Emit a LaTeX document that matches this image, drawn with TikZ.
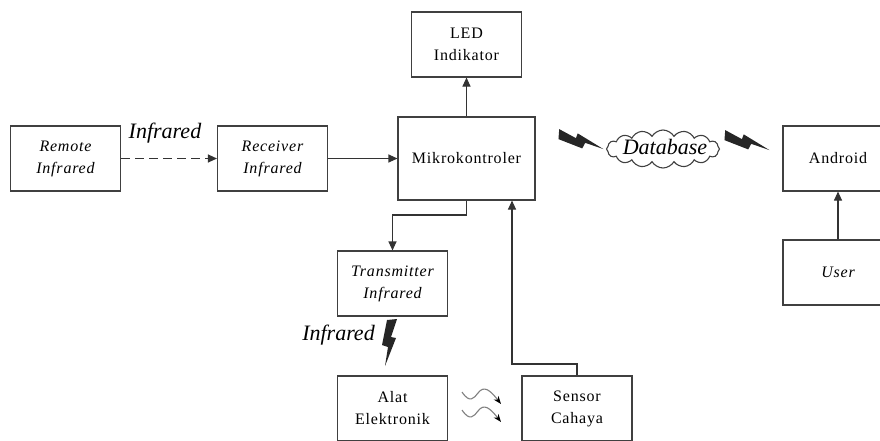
\documentclass[tikz,border=0pt]{standalone}
\usepackage{fontspec}
\setmainfont{Liberation Serif}
\newfontfamily\boxfont{Liberation Serif}[LetterSpace=5]
\usetikzlibrary{arrows.meta,positioning,shapes.symbols}
\newcommand\teksbox{\boxfont\fontsize{16}{22}\selectfont}
\newcommand\teksir{\itshape\fontsize{22}{24}\selectfont}
\tikzset{
  blok/.style={draw=black!75, line width=1.1pt, minimum width=110pt, minimum height=65pt,
    inner sep=0pt, align=center, font=\teksbox},
  miring/.style={blok, font=\teksbox\itshape},
  panah/.style={draw=black!80, line width=1.1pt, -{Triangle[length=9pt,width=8pt]}},
  gelombang/.style={draw=black!50, line width=1.1pt, -{Stealth[length=8pt,width=6pt,color=black]}},
  petir/.pic={\fill[black!85] (-3,1) -- (7,0) -- (1,18) -- (6,19) -- (-5,47) -- (-2,28) -- (-8,26) -- cycle;}
}
\begin{document}
\begin{tikzpicture}[x=1pt,y=-1pt]
\useasboundingbox (0,0) rectangle (880,440);
% Blok utama
\node[miring] (remote) at (65.5,158.5) {Remote\\Infrared};
\node[miring] (receiver) at (272.5,158.5) {Receiver\\Infrared};
\node[blok, minimum width=137pt, minimum height=83pt] (mikro) at (466.5,158.5) {Mikrokontroler};
\node[blok] (led) at (466.5,44.5) {LED\\Indikator};
\node[miring] (transmitter) at (392.5,283.5) {Transmitter\\Infrared};
\node[blok] (alat) at (392.5,408.5) {Alat\\Elektronik};
\node[blok] (sensor) at (577,408.5) {Sensor\\Cahaya};
\node[blok] (android) at (838,158.5) {Android};
\node[miring] (user) at (838,272.5) {User};
% Cloud database
\node[cloud, draw=black!75, line width=1.1pt, cloud puffs=16, cloud puff arc=120, aspect=3,
  minimum width=113pt, minimum height=38pt, inner sep=0pt] (db) at (663,149) {};
\node[font=\teksir, anchor=base] (dbtext) at (665,154) {Database};
% Label infrared
\node[font=\teksir, anchor=base] (irA) at (165,138) {Infrared};
\node[font=\teksir, anchor=base] (irB) at (338.5,340) {Infrared};
% Koneksi
\coordinate (t1) at (392.5,215);
\coordinate (s1) at (512,364);
\draw[panah, dash pattern=on 9pt off 5pt] (remote) -- (receiver);
\draw[panah] (receiver) -- (mikro);
\draw[panah] (mikro) -- (led);
\draw[panah] (mikro.south) |- (t1) -- (transmitter.north);
\draw[panah] (sensor.north) |- (s1) -- (s1 |- mikro.south);
\draw[panah] (user) -- (android);
% Petir
\pic[rotate=80] at (558,136) {petir};
\pic[rotate=80] at (724,137) {petir};
\pic at (390,319) {petir};
% Gelombang cahaya
\draw[gelombang] (462,392) .. controls (470,404) and (474,398) .. (478,393) .. controls (484,385) and (490,390) .. (501,404);
\draw[gelombang] (462,410) .. controls (470,422) and (474,416) .. (478,411) .. controls (484,403) and (490,408) .. (501,422);
\end{tikzpicture}
\end{document}
